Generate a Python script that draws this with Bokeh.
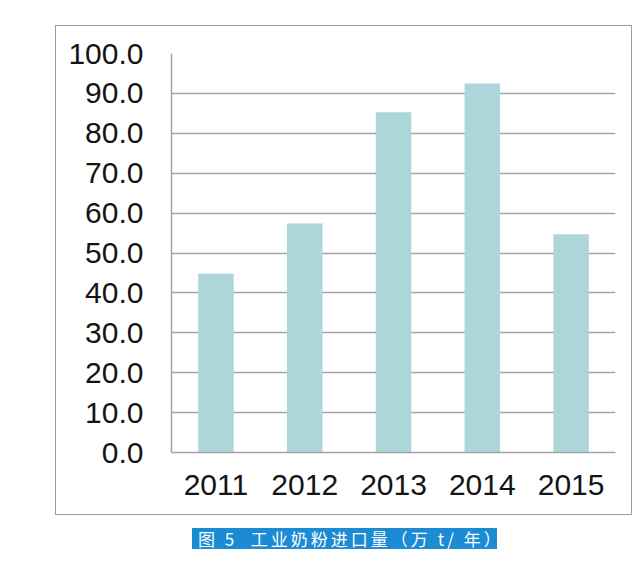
from bokeh.plotting import figure
from bokeh.models import Div, FixedTicker, NumeralTickFormatter, Range1d
from bokeh.layouts import column
from bokeh.embed import file_html
from bokeh.resources import INLINE

# ---- data ----
years = ["2011", "2012", "2013", "2014", "2015"]
imports_10k_t = [44.8, 57.4, 85.3, 92.5, 54.7]
y_ticks = [0, 10, 20, 30, 40, 50, 60, 70, 80, 90, 100]
caption = "图 5  工业奶粉进口量（万 t/ 年）"

GRID = "#a3a3a3"
BAR = "#acd6da"
FONT = "Liberation Sans"

p = figure(
    x_range=years,
    y_range=Range1d(0, 100),
    width=577,
    height=490,
    output_backend="svg",
    toolbar_location=None,
    min_border_left=115,
    min_border_right=18,
    min_border_top=27,
    min_border_bottom=64,
    margin=(25, 0, 0, 55),
)
p.styles = {"border": "1.5px solid #9c9c9c", "box-sizing": "border-box"}

p.vbar(x=years, top=imports_10k_t, width=0.4, fill_color=BAR, line_color=None)

p.background_fill_color = "white"
p.border_fill_color = "white"
p.outline_line_color = None

p.xgrid.grid_line_color = None
p.ygrid.grid_line_color = GRID
p.ygrid.grid_line_width = 1.5

p.yaxis.ticker = FixedTicker(ticks=y_ticks)
p.yaxis.formatter = NumeralTickFormatter(format="0.0")
for ax in (p.xaxis[0], p.yaxis[0]):
    ax.axis_line_color = GRID
    ax.axis_line_width = 1.5
    ax.major_tick_line_color = None
    ax.minor_tick_line_color = None
    ax.major_tick_out = 0
    ax.major_tick_in = 0
    ax.major_label_text_font = FONT
    ax.major_label_text_font_size = "30px"
    ax.major_label_text_color = "#141414"
p.yaxis.major_label_standoff = 28
p.xaxis.major_label_standoff = 22

cap = Div(
    text=caption,
    width=305,
    height=21,
    margin=(13, 0, 0, 192),
    styles={
        "background-color": "#1b8bd3",
        "color": "white",
        "font-family": "'Noto Sans CJK SC'",
        "font-size": "17px",
        "letter-spacing": "3px",
        "white-space": "pre",
        "line-height": "21px",
        "padding-left": "6px",
        "box-sizing": "border-box",
    },
)

layout = column(p, cap)
open("out.html", "w").write(file_html(layout, INLINE))
